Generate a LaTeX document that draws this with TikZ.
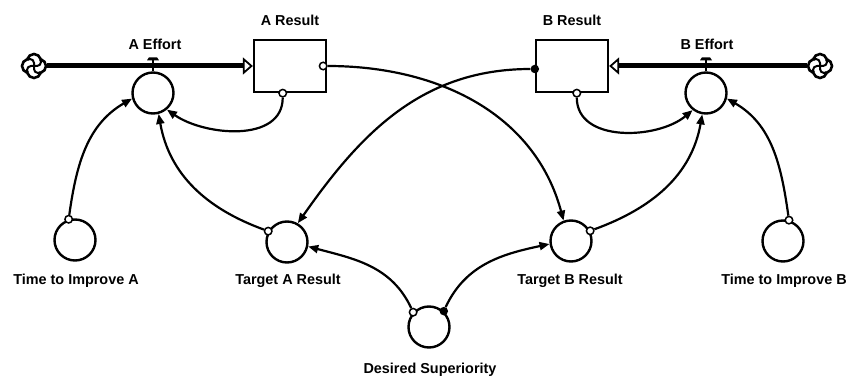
\documentclass[tikz,border=0pt]{standalone}
\usepackage{fontspec}
\setmainfont{Liberation Sans}
\usetikzlibrary{arrows.meta,shapes.symbols}

\begin{document}
\begin{tikzpicture}[x=1pt, y=1pt,
  conv/.style={circle, draw, line width=2.4pt, minimum size=41pt, inner sep=0pt},
  stock/.style={draw, line width=2.3pt, minimum width=72pt, minimum height=52pt, inner sep=0pt},
  cloudsym/.style={cloud, cloud puffs=4, aspect=1, draw, line width=2.6pt,
    minimum width=24pt, minimum height=24pt, inner sep=0pt,
    path picture={\foreach \a in {0,90,180,270}
      \draw[line width=2pt] (path picture bounding box.center) -- ++(\a:3pt)
        arc[start angle=\a-90, end angle=\a+40, radius=4pt];}},
  port/.style={circle, draw, fill=white, line width=1.5pt, minimum size=7.5pt, inner sep=0pt},
  dot/.style={circle, fill, minimum size=8.5pt, inner sep=0pt},
  link/.style={line width=2.2pt, -{Triangle[length=10pt,width=8pt]}},
  pipe/.style={line width=5pt, -{Triangle[open,length=10pt,width=17pt,line width=1.8pt]}},
  lbl/.style={font=\fontsize{14.4}{17}\selectfont\bfseries, inner sep=0pt}
]
  \useasboundingbox (0,0) rectangle (849,-377);

  % stocks, flows and converters
  \node[cloudsym] (srcA) at (34,-66)  {};
  \node[conv]     (aeff) at (153,-93) {};
  \node[stock]    (ares) at (290,-66) {};
  \node[stock]    (bres) at (572,-66) {};
  \node[conv]     (beff) at (706,-93) {};
  \node[cloudsym] (srcB) at (820,-66) {};
  \node[conv]     (tima) at (75,-240)  {};
  \node[conv]     (tara) at (287,-242) {};
  \node[conv]     (desi) at (429,-327) {};
  \node[conv]     (tarb) at (571,-241) {};
  \node[conv]     (timb) at (783,-241) {};

  % labels
  \node[lbl] (aefftxt) at (155,-44) {A Effort};
  \node[lbl] (arestxt) at (290,-20) {A Result};
  \node[lbl] (brestxt) at (572,-20) {B Result};
  \node[lbl] (befftxt) at (707,-44) {B Effort};
  \node[lbl, anchor=base] (timatxt) at (76,-284)  {Time to Improve A};
  \node[lbl, anchor=base] (taratxt) at (288,-284) {Target A Result};
  \node[lbl, anchor=base] (desitxt) at (430,-373) {Desired Superiority};
  \node[lbl, anchor=base] (tarbtxt) at (570,-284) {Target B Result};
  \node[lbl, anchor=base] (timbtxt) at (784,-284) {Time to Improve B};

  % pipes with valves
  \draw[pipe] (srcA) -- (ares.west);
  \draw[pipe] (srcB) -- (bres.east);
  \draw[line width=1.8pt] (aeff.north) -- ++(0,11) coordinate (avalve);
  \fill (avalve) ++(-6,0) -- ++(12,0) -- ++(-2,3) -- ++(-8,0) -- cycle;
  \draw[line width=1.8pt] (beff.north) -- ++(0,11) coordinate (bvalve);
  \fill (bvalve) ++(-6,0) -- ++(12,0) -- ++(-2,3) -- ++(-8,0) -- cycle;

  % connector origins
  \node[port] (aresB) at (ares.-105) {};
  \node[port] (aresR) at ([xshift=-4pt]ares.east) {};
  \node[dot]  (bresL) at ([yshift=-3pt]bres.west) {};
  \node[port] (bresB) at (bres.-80) {};
  \node[port] (timaT) at (tima.107) {};
  \node[port] (taraP) at (tara.150) {};
  \node[port] (desiL) at (desi.137) {};
  \node[dot]  (desiR) at (desi.47) {};
  \node[port] (tarbP) at (tarb.28) {};
  \node[port] (timbT) at (timb.74) {};

  % connectors
  \draw[link] (aresB) to[out=-90, in=-35] (aeff.-50);
  \draw[link] (timaT) to[out=82, in=-150] (aeff.195);
  \draw[link] (taraP) to[out=160, in=-80] (aeff.-75);
  \draw[link] (bresL) to[out=180, in=55] (tara.60);
  \draw[link] (aresR) to[out=0, in=105] (tarb.110);
  \draw[link] (bresB) to[out=-90, in=-140] (beff.-128);
  \draw[link] (tarbP) to[out=20, in=-100] (beff.-100);
  \draw[link] (timbT) to[out=98, in=-30] (beff.-15);
  \draw[link] (desiL) to[out=115, in=-15] (tara.-12);
  \draw[link] (desiR) to[out=65, in=192] (tarb.188);
\end{tikzpicture}
\end{document}
